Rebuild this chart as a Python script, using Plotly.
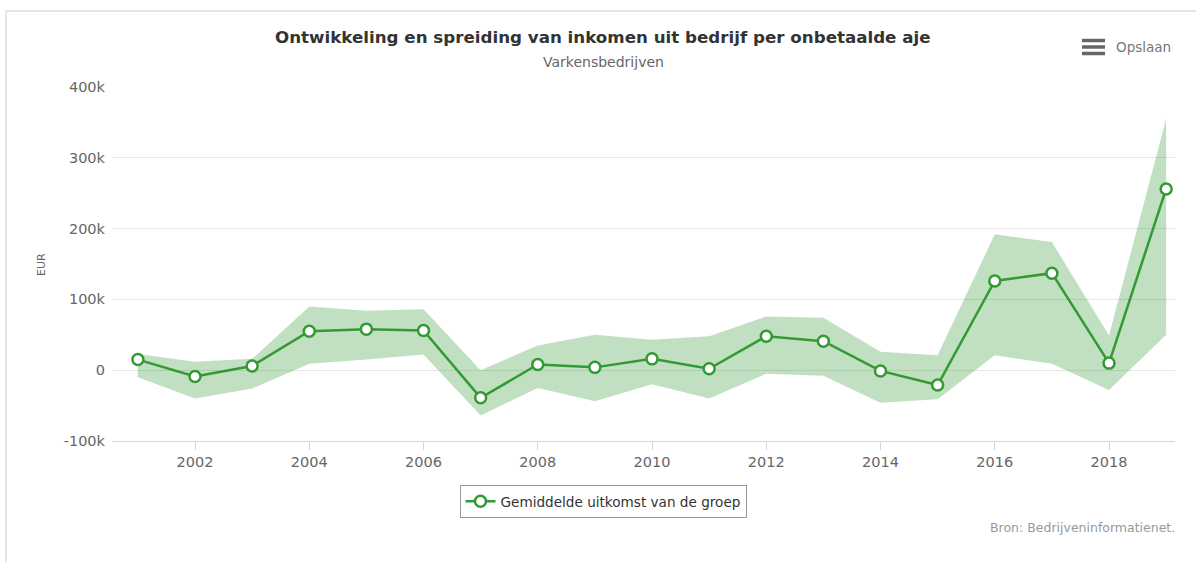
import plotly.graph_objects as go

years = list(range(2001, 2020))
mean_vals = [15000, -9000, 6000, 55000, 58000, 56000, -39000, 8000, 4000, 16000,
             2000, 48000, 41000, -1000, -21000, 126000, 137000, 10000, 256000]
upper_vals = [23000, 12000, 16000, 90000, 84000, 86000, 0, 35000, 50000, 43000,
              48000, 76000, 74000, 26000, 21000, 192000, 181000, 49000, 355000]
lower_vals = [-10000, -40000, -26000, 9000, 15000, 22000, -64000, -25000, -44000, -20000,
              -40000, -5000, -8000, -46000, -41000, 21000, 9000, -28000, 50000]
tick_years = list(range(2002, 2019, 2))
y_ticks = [-100000, 0, 100000, 200000, 300000, 400000]
y_tick_text = ["-100k", "0", "100k", "200k", "300k", "400k"]

title_text = "Ontwikkeling en spreiding van inkomen uit bedrijf per onbetaalde aje"
subtitle_text = "Varkensbedrijven"
series_name = "Gemiddelde uitkomst van de groep"
credits_text = "Bron: Bedrijveninformatienet."

W, H = 1196, 562
L, R, T, B = 112, 1175, 87, 441
PW, PH = R - L, B - T

def px(x):
    return (x - L) / PW

def py(y):
    return (B - y) / PH

GREEN = "#339933"
FILL = "rgba(51,153,51,0.3)"
FONT = "DejaVu Sans"

fig = go.Figure()
fig.add_trace(go.Scatter(x=years, y=lower_vals, mode="lines", line=dict(width=0),
                         showlegend=False, hoverinfo="skip"))
fig.add_trace(go.Scatter(x=years, y=upper_vals, mode="lines", line=dict(width=0),
                         fill="tonexty", fillcolor=FILL, showlegend=False, hoverinfo="skip"))
fig.add_trace(go.Scatter(x=years, y=mean_vals, mode="lines+markers", name=series_name,
                         line=dict(color=GREEN, width=2.5),
                         marker=dict(size=11, color="white", line=dict(color=GREEN, width=2.5))))

shapes = [
    dict(type="rect", xref="paper", yref="paper", x0=px(6), x1=px(1205), y0=py(11), y1=py(575),
         line=dict(color="#dddddd", width=1.5), fillcolor="rgba(0,0,0,0)", layer="below"),
]
for yy in [40.5, 47, 53.5]:
    shapes.append(dict(type="line", xref="paper", yref="paper", x0=px(1082), x1=px(1105),
                       y0=py(yy), y1=py(yy), line=dict(color="#666666", width=3.5)))

annotations = [
    dict(text="<b>" + title_text + "</b>", x=px(603), y=py(37), xref="paper", yref="paper",
         xanchor="center", yanchor="middle", showarrow=False,
         font=dict(family=FONT, size=16.7, color="#333333")),
    dict(text=subtitle_text, x=px(603), y=py(62), xref="paper", yref="paper",
         xanchor="center", yanchor="middle", showarrow=False,
         font=dict(family=FONT, size=14, color="#666666")),
    dict(text="Opslaan", x=px(1114), y=py(46.5), xref="paper", yref="paper",
         xanchor="left", yanchor="middle", showarrow=False,
         font=dict(family=FONT, size=13.5, color="#777777")),
    dict(text="EUR", x=px(41), y=py(265), xref="paper", yref="paper", textangle=-90,
         xanchor="center", yanchor="middle", showarrow=False,
         font=dict(family=FONT, size=11, color="#666666")),
    dict(text=credits_text, x=px(1177), y=py(527), xref="paper", yref="paper",
         xanchor="right", yanchor="middle", showarrow=False,
         font=dict(family=FONT, size=12.5, color="#999999")),
]

fig.update_layout(
    width=W, height=H,
    margin=dict(l=L, r=W - R, t=T, b=H - B, pad=0),
    paper_bgcolor="white", plot_bgcolor="white",
    font=dict(family=FONT, color="#666666"),
    showlegend=True,
    legend=dict(orientation="h", x=px(603), xanchor="center", y=py(485), yanchor="top",
                bordercolor="#999999", borderwidth=1, bgcolor="white",
                font=dict(family=FONT, size=13.6, color="#333333"),
                itemwidth=30),
    shapes=shapes,
    annotations=annotations,
    xaxis=dict(range=[2000.547, 2019.155], tickvals=tick_years, ticktext=[str(t) for t in tick_years],
               showgrid=False, zeroline=False, showline=True, linecolor="#ccd6eb", linewidth=1,
               ticks="outside", ticklen=8, tickcolor="#ccd6eb", tickwidth=1,
               tickfont=dict(family=FONT, size=14.5, color="#666666")),
    yaxis=dict(range=[-100000, 400000], tickvals=y_ticks, ticktext=y_tick_text,
               showgrid=True, gridcolor="#e6e6e6", gridwidth=1, zeroline=False, showline=False,
               ticks="", ticklabelstandoff=6,
               tickfont=dict(family=FONT, size=14.5, color="#666666")),
)

fig.write_html("out.html")
